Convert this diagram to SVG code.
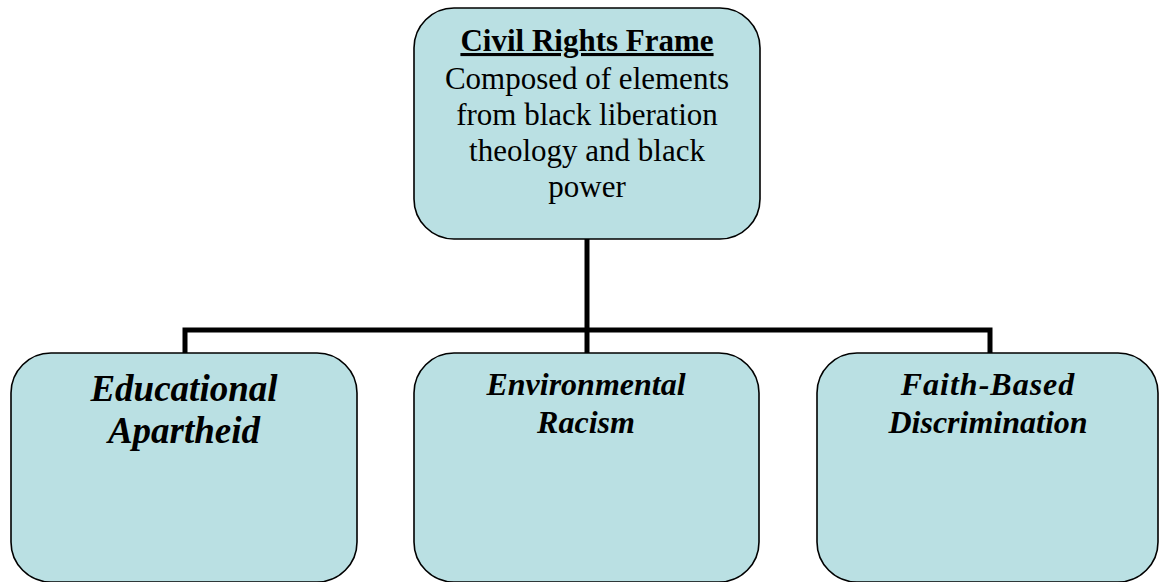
<svg xmlns="http://www.w3.org/2000/svg" width="1160" height="582" viewBox="0 0 1160 582">
<style>
.box{fill:#BAE0E3;stroke:#000;stroke-width:1.6}
.conn{fill:none;stroke:#000;stroke-width:5;stroke-linejoin:miter}
.t{font-family:"Liberation Serif","Times New Roman",serif;fill:#000;text-anchor:middle}
.ti{font-family:"Liberation Serif","Times New Roman",serif;fill:#000;text-anchor:middle;font-weight:bold;font-style:italic}
</style>
<rect width="1160" height="582" fill="#fff"/>
<g id="connectors">
<path class="conn" d="M587 239 V330"/>
<path class="conn" d="M185 353 V330 H990 V353"/>
<path class="conn" d="M587 330 V353"/>
</g>
<g id="civil-rights-frame">
<rect class="box" x="414" y="8" width="346" height="231" rx="40" ry="40"/>
<text class="t" x="587" y="51" font-size="31" font-weight="bold" text-decoration="underline">Civil Rights Frame</text>
<text class="t" x="587" y="89" font-size="31">Composed of elements</text>
<text class="t" x="587" y="125" font-size="31">from black liberation</text>
<text class="t" x="587" y="161" font-size="31">theology and black</text>
<text class="t" x="587" y="197" font-size="31">power</text>
</g>
<g id="educational-apartheid">
<rect class="box" x="11" y="353" width="346" height="229" rx="40" ry="40"/>
<text class="ti" x="184" y="401" font-size="37">Educational</text>
<text class="ti" x="184" y="443" font-size="37">Apartheid</text>
</g>
<g id="environmental-racism">
<rect class="box" x="414" y="353" width="345" height="229" rx="40" ry="40"/>
<text class="ti" x="586" y="395" font-size="32">Environmental</text>
<text class="ti" x="586" y="433" font-size="32">Racism</text>
</g>
<g id="faith-based-discrimination">
<rect class="box" x="817" y="353" width="341" height="229" rx="40" ry="40"/>
<text class="ti" x="988" y="395" font-size="32" letter-spacing="1">Faith-Based</text>
<text class="ti" x="988" y="433" font-size="32">Discrimination</text>
</g>
</svg>
